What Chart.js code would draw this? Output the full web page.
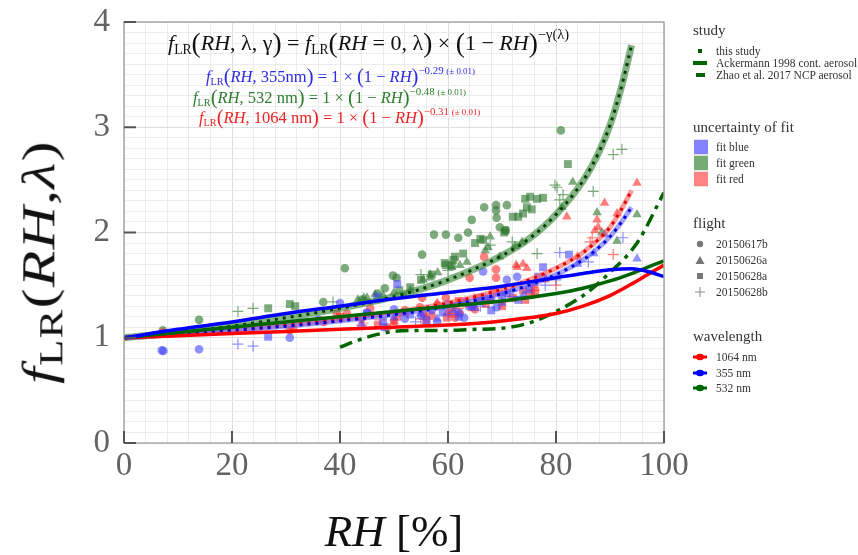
<!DOCTYPE html>
<html>
<head>
<meta charset="utf-8">
<script src="https://cdn.jsdelivr.net/npm/chart.js@4/dist/chart.umd.min.js"></script>
<style>
  body { margin: 0; background: #fff; }
  #wrap { position: relative; width: 858px; height: 555px; font-family: "Liberation Serif", "DejaVu Serif", serif; }
  #c { position: absolute; left: 0; top: 0; }
  .abs { position: absolute; white-space: nowrap; line-height: 1; }
  .eq sub { font-size: 62%; vertical-align: -0.25em; font-style: normal; }
  .eq sup { font-size: 66%; vertical-align: 0.75em; }
  .eq .pm { font-size: 82%; }
  .eq .bp { font-size: 125%; vertical-align: -0.06em; }
  .ytl sub { font-size: 72%; }
  .leg { color: #333; }
  .lt { position: absolute; left: 693px; font-size: 15px; transform: translateY(-50%); }
  .li { position: absolute; left: 716px; font-size: 11.5px; transform: translateY(-50%); }
  .ic { position: absolute; transform: translateY(-50%); }
</style>
</head>
<body>
<div id="wrap">
  <canvas id="c" width="858" height="555"></canvas>

  <div class="abs eq" style="left:168px; top:42px; transform:translateY(-50%); font-size:22px; color:#111;">
    <i>f</i><sub>LR</sub><span class="bp">(</span><i>RH</i>, λ, γ<span class="bp">)</span> = <i>f</i><sub>LR</sub><span class="bp">(</span><i>RH</i> = 0, λ<span class="bp">)</span> × <span class="bp">(</span>1 − <i>RH</i><span class="bp">)</span><sup>−γ(λ)</sup>
  </div>
  <div class="abs eq" style="left:206px; top:76px; transform:translateY(-50%); font-size:16.5px; color:#2b2be6;">
    <i>f</i><sub>LR</sub><span class="bp">(</span><i>RH</i>, 355nm<span class="bp">)</span> = 1 × <span class="bp">(</span>1 − <i>RH</i><span class="bp">)</span><sup>−0.29 <span class="pm">(± 0.01)</span></sup>
  </div>
  <div class="abs eq" style="left:193px; top:97px; transform:translateY(-50%); font-size:16.5px; color:#2d7d2d;">
    <i>f</i><sub>LR</sub><span class="bp">(</span><i>RH</i>, 532 nm<span class="bp">)</span> = 1 × <span class="bp">(</span>1 − <i>RH</i><span class="bp">)</span><sup>−0.48 <span class="pm">(± 0.01)</span></sup>
  </div>
  <div class="abs eq" style="left:199px; top:117px; transform:translateY(-50%); font-size:16.5px; color:#ec2323;">
    <i>f</i><sub>LR</sub><span class="bp">(</span><i>RH</i>, 1064 nm<span class="bp">)</span> = 1 × <span class="bp">(</span>1 − <i>RH</i><span class="bp">)</span><sup>−0.31 <span class="pm">(± 0.01)</span></sup>
  </div>

  <div class="abs eq ytl" style="left:42px; top:262px; transform:translate(-50%,-50%) rotate(-90deg) scaleX(1.3); font-size:46px; letter-spacing:1px; color:#111;">
    <i>f</i><sub>LR</sub>(<i>RH</i>,<i>λ</i>)
  </div>
  <div class="abs" style="left:394px; top:531px; transform:translate(-50%,-50%); font-size:45px; color:#111;">
    <i>RH</i> [%]
  </div>

  <div id="legend" class="leg"></div>
</div>

<script>
// curves
var ackRH    = [0, 10, 20, 30, 40, 50, 60, 70, 80, 85, 90, 94, 97, 100];
var ackBlue  = [1.00, 1.08, 1.15, 1.23, 1.30, 1.37, 1.43, 1.49, 1.57, 1.61, 1.645, 1.655, 1.63, 1.58];
var ackGreen = [1.00, 1.05, 1.10, 1.15, 1.20, 1.25, 1.30, 1.35, 1.42, 1.47, 1.54, 1.61, 1.67, 1.73];
var ackRed   = [1.00, 1.02, 1.04, 1.06, 1.08, 1.10, 1.12, 1.16, 1.23, 1.30, 1.40, 1.51, 1.60, 1.69];

var zhaoRH = [40, 43, 46, 50, 55, 60, 65, 70, 75, 80, 85, 90, 95, 100];
var zhaoF  = [0.91, 0.97, 1.02, 1.06, 1.07, 1.07, 1.08, 1.09, 1.14, 1.25, 1.40, 1.62, 1.90, 2.38];

var fitRH    = [0, 10, 20, 30, 40, 50, 60, 70, 75, 80, 85, 88, 90, 92, 94];
var fitBlue  = [1.00, 1.03, 1.07, 1.11, 1.16, 1.22, 1.30, 1.42, 1.50, 1.60, 1.74, 1.86, 1.96, 2.09, 2.24];
var fitGreen = [1.00, 1.05, 1.11, 1.19, 1.28, 1.39, 1.55, 1.78, 1.94, 2.17, 2.49, 2.77, 3.02, 3.36, 3.78];
var fitRed   = [1.00, 1.03, 1.07, 1.12, 1.17, 1.24, 1.33, 1.46, 1.55, 1.66, 1.81, 1.94, 2.05, 2.21, 2.40];

// measurements [RH, fLR], per wavelength and flight
var blue617b = [[7,0.88],[7.3,0.875],[13.9,0.89],[30.7,1.0],[40,1.33],[48.1,1.10],[45,1.24],[52,1.18],[55,1.21],[57,1.26],
  [58,1.15],[60,1.32],[62,1.24],[63,1.19],[64.5,1.30],[66.5,1.63],[68,1.36],[70.9,1.55],[72.8,1.58],[71,1.42],[69,1.29],[36,1.17],[50,1.27]];
var blue626a = [[44,1.13],[50,1.19],[55,1.23],[58,1.18],[61,1.26],[63,1.34],[65,1.28],[67,1.38],[70,1.33],[72,1.46],
  [74,1.41],[76,1.52],[78,1.57],[89,1.98],[95,1.75],[84,1.70],[87,1.80]];
var blue628a = [[26.7,1.01],[46.9,1.39],[50.6,1.51],[77.6,1.67],[82.4,1.79],[76.7,1.58],[45,1.23],[48,1.16],[53,1.22],[56,1.17],
  [59,1.24],[62,1.20],[64,1.30],[66,1.35],[68,1.26],[70,1.40],[73,1.36],[75,1.46]];
var blue628b = [[21.1,0.94],[23.9,0.92],[80.7,1.81],[92.4,1.95],[80,1.55],[54,1.15],[60,1.22],[66,1.30],[72,1.39],[78,1.50],[86,1.72]];

var green617b = [[7.2,1.07],[13.9,1.17],[36.9,1.34],[40.9,1.66],[48.3,1.47],[49.8,1.59],[50.5,1.57],[55.2,1.79],[57.4,1.98],[59.6,1.98],
  [61.9,1.95],[63.7,2.0],[64.4,2.12],[66.7,2.24],[68.9,2.26],[68.9,2.21],[70.9,2.26],[69,2.14],[70.7,2.02],[69.6,2.05],[80.9,2.97],[44,1.36],[47,1.42]];
var green626a = [[43.3,1.36],[44.4,1.38],[45,1.38],[46.5,1.41],[53,1.45],[55.4,1.55],[56.7,1.60],[58.1,1.62],[60.7,1.67],[62.2,1.69],
  [63.5,1.72],[66.9,1.83],[67.4,1.86],[67.8,1.96],[69.6,1.77],[72.4,1.87],[73.7,1.91],[81.1,2.24],[83.1,2.48],[87.6,2.19],
  [88.5,2.0],[91.3,1.92],[95,2.17],[56.7,1.57],[50,1.43],[52,1.40],[48,1.40]];
var green628a = [[26.7,1.28],[30.7,1.32],[31.7,1.30],[59.4,1.71],[59.6,1.69],[60.7,1.69],[61,1.74],[61.3,1.77],[62.8,1.80],[65,1.90],
  [66,1.94],[66.5,1.93],[70.4,2.0],[70.6,2.02],[72,2.15],[73,2.15],[73.9,2.18],[74.3,2.32],[74.6,2.24],[75.2,2.34],
  [75.5,2.22],[76.5,2.32],[77.6,2.33],[82.2,2.65],[51,1.45],[53,1.48],[55,1.55],[57,1.60]];
var green628b = [[21.1,1.25],[23.9,1.28],[38.7,1.34],[67.8,1.88],[71.9,1.91],[76.5,1.80],[79.8,2.45],[80.2,2.43],[80.7,2.31],[81.3,2.36],
  [86.9,2.39],[90.6,2.74],[92.2,2.79],[55,1.60],[60,1.64]];

var red617b = [[7.2,1.05],[30.7,1.07],[31.3,1.09],[37,1.15],[39.4,1.23],[41.3,1.23],[45.6,1.28],[48.7,1.10],[54.8,1.29],[55.4,1.23],
  [55.2,1.38],[59.6,1.38],[61,1.29],[62.2,1.23],[61.3,1.19],[64,1.57],[66.7,1.77],[68.9,1.65],[68.9,1.57],[50,1.16],
  [52,1.26],[57,1.21],[58,1.31],[63,1.33],[65,1.27],[44,1.18]];
var red626a = [[72.6,1.69],[73.9,1.70],[72.8,1.67],[74.6,1.66],[82,2.15],[87.2,2.02],[87.6,2.12],[87.8,2.05],[89,2.28],[91.3,2.18],
  [95,2.47],[50,1.15],[56,1.20],[60,1.25],[64,1.31],[67,1.36],[70,1.42],[76,1.50],[78,1.55],[58,1.33],[84,1.77]];
var red628a = [[40,1.20],[50.6,1.20],[52,1.24],[59.8,1.19],[60.7,1.23],[64.4,1.29],[65.4,1.38],[67,1.32],[67.8,1.36],[68.3,1.43],
  [73.9,1.45],[74.3,1.36],[75.2,1.43],[76.1,1.44],[56,1.14],[62,1.35],[70,1.30],[72,1.38],[47,1.12]];
var red628b = [[44,1.12],[44.3,1.14],[47.4,1.17],[50.2,1.23],[86.3,1.91],[86.7,1.95],[90.6,1.79],[55,1.18],[62,1.28],[70,1.34],[76,1.45],[80,1.50]];

var flights = ['20150617b', '20150626a', '20150628a', '20150628b'];
var wavelengths = ['1064 nm', '355 nm', '532 nm'];

var C = {
  blue:  { pt: 'rgba(70,70,255,0.6)',  band: 'rgba(90,90,255,0.55)',  dot: '#0000d8', line: '#0000ff' },
  green: { pt: 'rgba(45,120,45,0.62)', band: 'rgba(50,130,50,0.6)',   dot: '#003f00', line: '#006400' },
  red:   { pt: 'rgba(255,40,40,0.6)',  band: 'rgba(255,90,90,0.6)',   dot: '#e00000', line: '#ff0000' }
};

function xy(xs, ys){
  var out = [], i;
  for(i = 0; i < xs.length; i++){ out.push({x: xs[i], y: ys[i]}); }
  return out;
}
function pairs(p){
  return p.map(function(d){ return {x: d[0], y: d[1]}; });
}
function pts(p, col, style){
  var cross = style === 'cross';
  return {
    data: pairs(p), showLine: false, order: 5,
    pointStyle: style,
    pointRadius: style === 'circle' ? 4.3 : (style === 'rect' ? 5.6 : 5.5),
    backgroundColor: C[col].pt,
    borderColor: cross ? C[col].pt : 'rgba(0,0,0,0)',
    borderWidth: cross ? 1.2 : 0
  };
}
function curve(xs, ys, color, width, dash, order){
  return {
    data: xy(xs, ys), showLine: true, pointRadius: 0, order: order,
    borderColor: color, borderWidth: width, borderDash: dash || [],
    cubicInterpolationMode: 'monotone', borderCapStyle: 'butt', fill: false
  };
}

var datasets = [
  pts(blue617b, 'blue', 'circle'), pts(blue626a, 'blue', 'triangle'), pts(blue628a, 'blue', 'rect'), pts(blue628b, 'blue', 'cross'),
  pts(red617b, 'red', 'circle'), pts(red626a, 'red', 'triangle'), pts(red628a, 'red', 'rect'), pts(red628b, 'red', 'cross'),
  pts(green617b, 'green', 'circle'), pts(green626a, 'green', 'triangle'), pts(green628a, 'green', 'rect'), pts(green628b, 'green', 'cross'),
  curve(fitRH, fitBlue, C.blue.band, 5, null, 3),
  curve(fitRH, fitRed, C.red.band, 5, null, 3),
  curve(fitRH, fitGreen, C.green.band, 7, null, 3),
  curve(fitRH, fitBlue, C.blue.dot, 3, [3, 5], 2),
  curve(fitRH, fitRed, C.red.dot, 3, [3, 5], 2),
  curve(fitRH, fitGreen, C.green.dot, 3, [3, 5], 2),
  curve(ackRH, ackBlue, C.blue.line, 3.5, null, 1),
  curve(ackRH, ackGreen, C.green.line, 3.5, null, 1),
  curve(ackRH, ackRed, C.red.line, 3.5, null, 1),
  curve(zhaoRH, zhaoF, C.green.line, 3.5, [13, 6, 4, 6], 1)
];

/*Marco y marcas hacia dentro*/
var framePlugin = {
  id: 'frame',
  afterDatasetsDraw: function(chart){
    var ctx = chart.ctx, a = chart.chartArea, sx = chart.scales.x, sy = chart.scales.y, v, p;
    ctx.save();
    ctx.strokeStyle = '#a8a8a8';
    ctx.lineWidth = 1.5;
    ctx.strokeRect(a.left, a.top, a.right - a.left, a.bottom - a.top);
    ctx.strokeStyle = '#555';
    ctx.lineWidth = 2;
    ctx.beginPath();
    for(v = 0; v <= 100; v += 20){
      p = sx.getPixelForValue(v);
      ctx.moveTo(p, a.bottom); ctx.lineTo(p, a.bottom - 12);
    }
    for(v = 0; v <= 4; v++){
      p = sy.getPixelForValue(v);
      ctx.moveTo(a.left, p); ctx.lineTo(a.left + 12, p);
    }
    ctx.stroke();
    ctx.restore();
  }
};

function isInt(v){ return Math.abs(v - Math.round(v)) < 1e-6; }

new Chart(document.getElementById('c'), {
  type: 'scatter',
  data: { datasets: datasets },
  plugins: [framePlugin],
  options: {
    responsive: false, animation: false,
    layout: { padding: { left: 0, top: 22, right: 194, bottom: 0 } },
    plugins: { legend: { display: false }, tooltip: { enabled: false } },
    scales: {
      x: {
        type: 'linear', min: 0, max: 100,
        border: { display: false },
        grid: { color: function(c){ return c.tick && c.tick.value % 20 === 0 ? '#dedede' : '#ececec'; }, drawTicks: false, lineWidth: 1 },
        ticks: {
          stepSize: 4, autoSkip: false, maxRotation: 0, padding: 4, color: '#636363',
          font: { family: 'Liberation Serif', size: 33 },
          callback: function(v){ return v % 20 === 0 ? String(v) : ''; }
        },
        afterFit: function(s){ s.height = 112; s.paddingLeft = 0; s.paddingRight = 0; }
      },
      y: {
        type: 'linear', min: 0, max: 4,
        border: { display: false },
        grid: { color: function(c){ return c.tick && isInt(c.tick.value) ? '#dedede' : '#ececec'; }, drawTicks: false, lineWidth: 1 },
        ticks: {
          stepSize: 0.1, autoSkip: false, padding: 14, color: '#636363',
          font: { family: 'Liberation Serif', size: 33 },
          callback: function(v){ return isInt(v) ? String(Math.round(v)) : ''; }
        },
        afterFit: function(s){ s.width = 124; s.paddingTop = 0; s.paddingBottom = 0; }
      }
    }
  }
});

// leyenda
var leg = document.getElementById('legend'), html = '';
function title(t, y){ html += '<div class="lt" style="top:' + y + 'px">' + t + '</div>'; }
function item(t, y){ html += '<div class="li" style="top:' + y + 'px">' + t + '</div>'; }
function icon(svg, x, y, w, h){
  html += '<svg class="ic" style="left:' + x + 'px; top:' + y + 'px" width="' + w + '" height="' + h + '">' + svg + '</svg>';
}
title('study', 30);
icon('<rect x="0" y="0" width="4" height="4" fill="#005a00"/>', 698, 51, 4, 4); item('this study', 51);
icon('<rect x="0" y="0" width="14" height="4" fill="#006400"/>', 693, 63, 14, 4); item('Ackermann 1998 cont. aerosol', 63);
icon('<rect x="0" y="0" width="9" height="4" fill="#006400"/>', 696, 75, 9, 4); item('Zhao et al. 2017 NCP aerosol', 75);

title('uncertainty of fit', 127);
icon('<rect width="14" height="15" fill="rgba(90,90,255,0.75)"/>', 694, 147, 14, 15); item('fit blue', 147);
icon('<rect width="14" height="15" fill="rgba(60,135,60,0.7)"/>', 694, 163, 14, 15); item('fit green', 163);
icon('<rect width="14" height="15" fill="rgba(255,100,100,0.8)"/>', 694, 179, 14, 15); item('fit red', 179);

title('flight', 223);
icon('<circle cx="5" cy="5" r="3.2" fill="#777"/>', 695, 244, 10, 10); item(flights[0], 244);
icon('<path d="M5 1 L9.5 9 L0.5 9 Z" fill="#777"/>', 695, 260, 10, 10); item(flights[1], 260);
icon('<rect x="2" y="2" width="6" height="6" fill="#777"/>', 695, 276, 10, 10); item(flights[2], 276);
icon('<path d="M5 0 V10 M0 5 H10" stroke="#888" stroke-width="1"/>', 695, 292, 10, 10); item(flights[3], 292);

title('wavelength', 336);
var wcol = ['#ff0000', '#0000ff', '#006400'];
for(var i = 0; i < 3; i++){
  icon('<rect x="0" y="3" width="14" height="3" fill="' + wcol[i] + '"/><ellipse cx="7" cy="4.5" rx="4" ry="3.2" fill="' + wcol[i] + '"/>',
    693, 357 + i * 15.5, 14, 9);
  item(wavelengths[i], 357 + i * 15.5);
}
leg.innerHTML = html;
</script>
</body>
</html>
